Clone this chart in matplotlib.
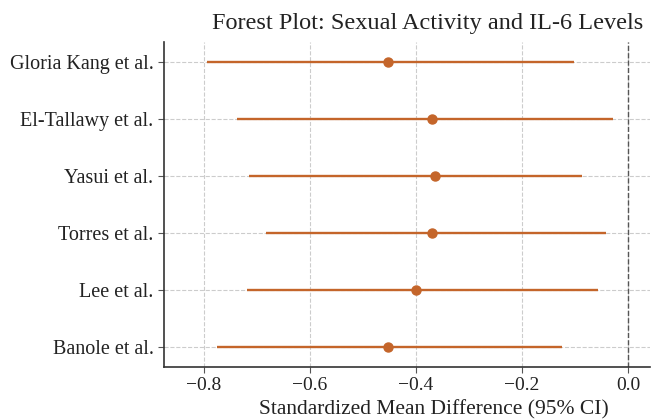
import matplotlib
matplotlib.use('Agg')
import matplotlib.pyplot as plt

# Datos del forest plot
studies = ['Gloria Kang et al.', 'El-Tallawy et al.', 'Yasui et al.',
           'Torres et al.', 'Lee et al.', 'Banole et al.']
smd = [-0.453, -0.370, -0.365, -0.369, -0.401, -0.453]
ci_low = [-0.794, -0.737, -0.714, -0.683, -0.719, -0.775]
ci_high = [-0.102, -0.029, -0.088, -0.042, -0.057, -0.125]

color = '#C4652A'

plt.rcParams['font.family'] = ['Liberation Serif', 'DejaVu Serif']

fig, ax = plt.subplots(figsize=(6.52, 4.2), dpi=100)
fig.subplots_adjust(left=0.2515, right=0.997, top=0.9, bottom=0.126)

ypos = list(range(len(studies)))

# Intervalos de confianza y estimaciones puntuales
ax.hlines(ypos, ci_low, ci_high, color=color, linewidth=1.7, zorder=3)
ax.plot(smd, ypos, 'o', color=color, markersize=6.5, zorder=4)

# Linea de no efecto
ax.axvline(0, color='#555555', linestyle='--', linewidth=1.0, zorder=2)

ax.set_yticks(ypos)
ax.set_yticklabels(studies)
ax.set_ylim(len(studies) - 1 + 0.35, -0.35)
ax.set_xlim(-0.875, 0.041)
ax.set_xticks([-0.8, -0.6, -0.4, -0.2, 0.0])

ax.grid(True, linestyle='--', color='#cccccc', linewidth=0.8, zorder=0)
ax.set_axisbelow(True)

for side in ['top', 'right']:
    ax.spines[side].set_visible(False)
for side in ['left', 'bottom']:
    ax.spines[side].set_color('#333333')
    ax.spines[side].set_linewidth(1.2)

ax.tick_params(axis='both', colors='#555555', labelcolor='#222222', length=4)
ax.tick_params(axis='y', labelsize=14.5)
ax.tick_params(axis='x', labelsize=14)

ax.set_xlabel('Standardized Mean Difference (95% CI)', fontsize=15.5,
              color='#222222')
ax.xaxis.set_label_coords(0.5545, -0.102)
fig.text(427.5 / 652, 1 - 24 / 420, 'Forest Plot: Sexual Activity and IL-6 Levels',
         fontsize=17.5, ha='center', va='center', color='#222222')

fig.savefig('out.png', dpi=100)
